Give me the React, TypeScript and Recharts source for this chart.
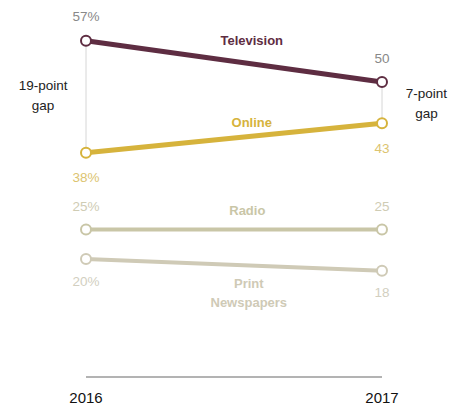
import { LineChart, Line, XAxis, YAxis, LabelList, ReferenceLine, ReferenceDot } from 'recharts';

const years = [2016, 2017];
const television = [57, 50];
const online = [38, 43];
const radio = [25, 25];
const print = [20, 18];

const TV = '#5e2d42';
const ONLINE = '#d6b33c';
const RADIO = '#c9c6a7';
const PRINT = '#cfcab6';
const FONT = '"Liberation Sans", Arial, sans-serif';

const data = years.map((year, i) => ({
  year,
  television: television[i],
  online: online[i],
  radio: radio[i],
  print: print[i],
}));

// value label: first point gets a "%" sign
const valueLabel = (color: string, dy: number) => (props: any) => {
  const { x, y, value, index } = props;
  return (
    <text
      x={x}
      y={y + dy}
      fill={color}
      fontSize={13.5}
      fontFamily={FONT}
      textAnchor="middle"
      dominantBaseline="middle"
    >
      {index === 0 ? `${value}%` : value}
    </text>
  );
};

const seriesLabel = (lines: string[], color: string) => (props: any) => {
  const { cx, cy } = props;
  return (
    <g>
      {lines.map((t, i) => (
        <text
          key={t}
          x={cx}
          y={cy + i * 19}
          fill={color}
          fontSize={13}
          fontWeight="bold"
          fontFamily={FONT}
          textAnchor="middle"
          dominantBaseline="middle"
        >
          {t}
        </text>
      ))}
    </g>
  );
};

const gapNote = (lines: string[]) => (props: any) => {
  const { cx, cy } = props;
  return (
    <g>
      {lines.map((t, i) => (
        <text
          key={t}
          x={cx}
          y={cy + i * 20}
          fill="#222"
          fontSize={13.5}
          fontFamily={FONT}
          textAnchor="middle"
          dominantBaseline="middle"
        >
          {t}
        </text>
      ))}
    </g>
  );
};

const dot = (color: string) => ({ r: 5, fill: '#fff', stroke: color, strokeWidth: 2 });

export default function App() {
  return (
    <div>
      <style>{`body{margin:0}`}</style>
      <LineChart
        width={454}
        height={411}
        data={data}
        margin={{ top: 23, right: 72, left: 86, bottom: 0 }}
      >
        <XAxis
          dataKey="year"
          type="number"
          domain={[2016, 2017]}
          ticks={years}
          tickLine={false}
          axisLine={{ stroke: '#9a9a9a', strokeWidth: 1.5 }}
          tick={{ fill: '#111', fontSize: 15, fontFamily: FONT }}
          tickMargin={9}
          height={34}
        />
        <YAxis hide domain={[0, 60]} />

        <ReferenceLine
          segment={[{ x: 2016, y: online[0] }, { x: 2016, y: television[0] }]}
          stroke="#d6d6d6"
          strokeWidth={1}
        />
        <ReferenceLine
          segment={[{ x: 2017, y: online[1] }, { x: 2017, y: television[1] }]}
          stroke="#d6d6d6"
          strokeWidth={1}
        />

        <Line dataKey="print" stroke={PRINT} strokeWidth={4} dot={dot(PRINT)} isAnimationActive={false}>
          <LabelList content={valueLabel('#d2cfbf', 23)} />
        </Line>
        <Line dataKey="radio" stroke={RADIO} strokeWidth={4} dot={dot(RADIO)} isAnimationActive={false}>
          <LabelList content={valueLabel('#cfccb4', -22)} />
        </Line>
        <Line dataKey="online" stroke={ONLINE} strokeWidth={5} dot={dot(ONLINE)} isAnimationActive={false}>
          <LabelList content={valueLabel('#dcc470', 26)} />
        </Line>
        <Line dataKey="television" stroke={TV} strokeWidth={5} dot={dot(TV)} isAnimationActive={false}>
          <LabelList content={valueLabel('#888', -23)} />
        </Line>

        <ReferenceDot x={2016.56} y={56.8} r={0} shape={seriesLabel(['Television'], TV)} />
        <ReferenceDot x={2016.56} y={43} r={0} shape={seriesLabel(['Online'], ONLINE)} />
        <ReferenceDot x={2016.545} y={28.1} r={0} shape={seriesLabel(['Radio'], RADIO)} />
        <ReferenceDot x={2016.55} y={15.7} r={0} shape={seriesLabel(['Print', 'Newspapers'], PRINT)} />

        <ReferenceDot x={2015.855} y={49.3} r={0} ifOverflow="visible" shape={gapNote(['19-point', 'gap'])} />
        <ReferenceDot x={2017.15} y={47.9} r={0} ifOverflow="visible" shape={gapNote(['7-point', 'gap'])} />
      </LineChart>
    </div>
  );
}
